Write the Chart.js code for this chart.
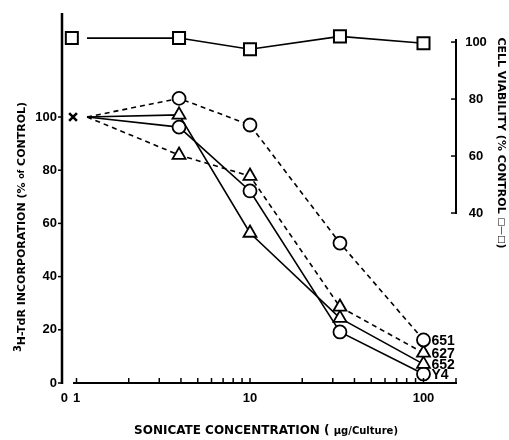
<!DOCTYPE html>
<html>
<head>
<meta charset="utf-8">
<script src="https://cdn.jsdelivr.net/npm/chart.js@4.4.1/dist/chart.umd.min.js"></script>
<style>
  html, body { margin: 0; padding: 0; background: #fff; }
  canvas { display: block; }
</style>
</head>
<body>
<canvas id="grafico" width="509" height="440"></canvas>
<script>
// concentrations (ug/culture); first point is the control
const conc = [1.15, 3.9, 10, 33, 100];
const line651 = [100, 107, 97, 52.6, 16.2];
const line627 = [100, 85.7, 77.8, 28.6, 11.3];
const line652 = [100, 100.8, 56.4, 24.4, 7.1];
const lineY4 = [100, 96.2, 72.2, 19.2, 3.4];

// cell viability (right axis)
const viabConc = [1.15, 3.9, 10, 33, 100];
const viability = [101.4, 101.4, 97.5, 102, 99.6];
const viabControl = { x: 0.94, y: 101.4 };
const controlMark = { x: 0.955, y: 100 };

const seriesNames = ['651', '627', '652', 'Y4'];

// ticks
const leftTicks = [0, 20, 40, 60, 80, 100];
const rightTicks = [40, 60, 80, 100];
const xTickValues = [0.85, 1, 10, 100];
const xTickLabels = ['0', '1', '10', '100'];
const xMinorTicks = [1, 2, 3, 4, 5, 6, 7, 8, 9, 10, 20, 30, 40, 50, 60, 70, 80, 90, 100];

const toPoints = (xs, ys) => xs.map((v, i) => ({ x: v, y: ys[i] }));

function serie(data, label, style, dashed) {
    return {
        label: label,
        data: toPoints(conc, data),
        yAxisID: 'y',
        borderColor: '#000',
        borderWidth: 1.6,
        borderDash: dashed ? [5, 4] : [],
        backgroundColor: '#fff',
        pointStyle: style,
        pointRadius: data.map((v, i) => i === 0 ? 0 : (style === 'triangle' ? 7.5 : 6.5)),
        pointBorderWidth: 1.8,
        pointBackgroundColor: '#fff',
        tension: 0
    };
}

const F = '"Liberation Sans", Arial, sans-serif';
const T = '"DejaVu Sans", sans-serif';

// draws a list of text pieces one after another, centred on (cx, cy)
function drawPieces(ctx, pieces, cx, cy) {
    let total = 0;
    pieces.forEach(p => { ctx.font = p.font; total += ctx.measureText(p.t).width; });
    let xx = cx - total / 2;
    ctx.textAlign = 'left';
    ctx.textBaseline = 'middle';
    pieces.forEach(p => {
        ctx.font = p.font;
        ctx.fillText(p.t, xx, cy + (p.dy || 0));
        xx += ctx.measureText(p.t).width;
    });
}

const axesPlugin = {
    id: 'axes',
    afterDraw(chart) {
        const ctx = chart.ctx;
        const { x, y, y2 } = chart.scales;
        ctx.save();
        ctx.strokeStyle = '#000';
        ctx.fillStyle = '#000';

        // left axis
        const lx = 62;
        ctx.lineWidth = 2.5;
        ctx.beginPath();
        ctx.moveTo(lx, 13);
        ctx.lineTo(lx, 384);
        ctx.stroke();
        ctx.lineWidth = 1.5;
        ctx.font = 'bold 13px ' + F;
        ctx.textAlign = 'right';
        ctx.textBaseline = 'middle';
        leftTicks.forEach(v => {
            const py = y.getPixelForValue(v);
            ctx.beginPath();
            ctx.moveTo(lx - 4, py);
            ctx.lineTo(lx, py);
            ctx.stroke();
            ctx.fillText(String(v), lx - 5, py);
        });

        // bottom axis
        const by = 383;
        ctx.lineWidth = 2;
        ctx.beginPath();
        ctx.moveTo(73, by);
        ctx.lineTo(457, by);
        ctx.stroke();
        ctx.lineWidth = 1.5;
        xMinorTicks.concat([156]).forEach(v => {
            const px = Math.min(x.getPixelForValue(v), 456);
            ctx.beginPath();
            ctx.moveTo(px, by);
            ctx.lineTo(px, by - 5);
            ctx.stroke();
        });
        ctx.textAlign = 'center';
        xTickValues.forEach((v, i) => {
            ctx.fillText(xTickLabels[i], x.getPixelForValue(v), 398);
        });

        // right axis (cell viability)
        const rx = 456;
        const top = y2.getPixelForValue(100) - 3;
        const bot = y2.getPixelForValue(40) + 1;
        ctx.lineWidth = 2;
        ctx.beginPath();
        ctx.moveTo(rx, top);
        ctx.lineTo(rx, bot);
        ctx.stroke();
        ctx.lineWidth = 1.5;
        ctx.textAlign = 'center';
        rightTicks.forEach(v => {
            const py = y2.getPixelForValue(v);
            ctx.beginPath();
            ctx.moveTo(rx - 5, py);
            ctx.lineTo(rx, py);
            ctx.stroke();
            ctx.fillText(String(v), 476, py);
        });

        // series names next to last points
        ctx.textAlign = 'left';
        ctx.font = 'bold 14px ' + F;
        seriesNames.forEach((name, i) => {
            const pt = chart.getDatasetMeta(i).data[conc.length - 1];
            ctx.fillText(name, pt.x + 8, pt.y + 1);
        });

        // axis titles
        ctx.save();
        ctx.translate(22, 227);
        ctx.rotate(-Math.PI / 2);
        drawPieces(ctx, [
            { t: '3', font: 'bold 10px ' + T, dy: -4 },
            { t: 'H-TdR INCORPORATION (% ', font: 'bold 11px ' + T },
            { t: 'of', font: 'bold 8px ' + T },
            { t: ' CONTROL)', font: 'bold 11px ' + T }
        ], 0, 0);
        ctx.restore();

        ctx.save();
        ctx.translate(501, 143);
        ctx.rotate(Math.PI / 2);
        drawPieces(ctx, [
            { t: 'CELL VIABILITY (% CONTROL ', font: 'bold 11px ' + T },
            { t: '\u25A1\u2014\u25A1', font: '9px ' + T },
            { t: ')', font: 'bold 11px ' + T }
        ], 0, 0);
        ctx.restore();

        drawPieces(ctx, [
            { t: 'SONICATE CONCENTRATION ( ', font: 'bold 12px ' + T },
            { t: '\u00B5g/Culture)', font: 'bold 10px ' + T }
        ], 266, 431);

        ctx.restore();
    }
};

const ctx = document.getElementById('grafico').getContext('2d');
window.grafico = new Chart(ctx, {
    type: 'line',
    data: {
        datasets: [
            serie(line651, '651', 'circle', true),
            serie(line627, '627', 'triangle', true),
            serie(line652, '652', 'triangle', false),
            serie(lineY4, 'Y4', 'circle', false),
            {
                label: 'viability',
                data: toPoints(viabConc, viability),
                yAxisID: 'y2',
                borderColor: '#000',
                borderWidth: 1.6,
                pointStyle: 'rect',
                pointRadius: viability.map((v, i) => i === 0 ? 0 : 8.5),
                pointBorderWidth: 2,
                pointBackgroundColor: '#fff',
                tension: 0
            },
            {
                label: 'viability control',
                data: [viabControl],
                yAxisID: 'y2',
                showLine: false,
                pointStyle: 'rect',
                pointRadius: 8.5,
                pointBorderWidth: 2,
                borderColor: '#000',
                pointBackgroundColor: '#fff'
            },
            {
                label: 'control',
                data: [controlMark],
                yAxisID: 'y',
                showLine: false,
                pointStyle: 'crossRot',
                pointRadius: 5.5,
                pointBorderWidth: 2.6,
                borderColor: '#000'
            }
        ]
    },
    options: {
        responsive: false,
        animation: false,
        layout: { padding: { left: 62, right: 52, top: 13, bottom: 57 } },
        plugins: { legend: { display: false }, tooltip: { enabled: false } },
        scales: {
            x: { type: 'logarithmic', min: 0.825, max: 156, display: false },
            y: { type: 'linear', min: 0, max: 139.1, display: false },
            y2: { type: 'linear', min: -19.65, max: 110.2, display: false }
        }
    },
    plugins: [axesPlugin]
});
</script>
</body>
</html>
